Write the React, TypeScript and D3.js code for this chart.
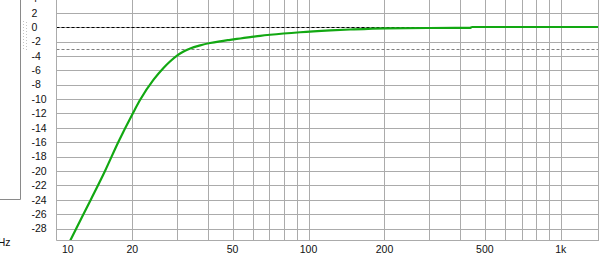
import React from "react";
import * as d3 from "d3";

// ---- data ----
const freqs = [11.2, 12, 13.7, 15.6, 17.6, 20.1, 21.5, 24.3, 26.6, 28.3, 30.1, 31.95, 33.96, 37.2, 40.7, 44.6, 48.9, 53.6, 58.7, 64.3, 70.4, 92.6, 122, 146, 202, 300, 436, 445, 800, 1420];
const gainDb = [-30.1, -28, -24, -20, -16, -12, -10.1, -7.3, -5.67, -4.74, -3.95, -3.38, -2.95, -2.52, -2.2, -1.96, -1.76, -1.57, -1.38, -1.2, -1.05, -0.7, -0.45, -0.32, -0.15, -0.11, -0.1, 0.03, 0.03, 0.03];
const yTicks = [4, 2, 0, -2, -4, -6, -8, -10, -12, -14, -16, -18, -20, -22, -24, -26, -28];
const xGrid = [10, 20, 30, 40, 50, 60, 70, 80, 90, 100, 200, 300, 400, 500, 600, 700, 800, 900, 1000];
const xLabels = [
  { f: 10, t: "10" },
  { f: 20, t: "20" },
  { f: 50, t: "50" },
  { f: 100, t: "100" },
  { f: 200, t: "200" },
  { f: 500, t: "500" },
  { f: 1000, t: "1k" },
];
const refLines = [
  { db: 0, color: "#000000" },
  { db: -3, color: "#808080" },
];

const W = 599;
const H = 279;
const plotLeft = 56.5;
const plotRight = 599;
const plotBottom = 240.5;

export default function App() {
  const x = d3.scaleLog().domain([10, 1000]).range([56.3, 560.8]);
  const y = d3.scaleLinear().domain([0, -28]).range([27.2, 228.5]);
  const pts = freqs.map((f, i) => [f, gainDb[i]] as [number, number]);
  const line = d3
    .line<[number, number]>()
    .x((d) => x(d[0]))
    .y((d) => y(d[1]))
    .curve(d3.curveMonotoneX);
  const font = "'Liberation Sans', Arial, sans-serif";
  const gridColor = "#ababab";
  const dots: number[] = d3.range(21, 49, 3);
  return (
    <svg
      width={W}
      height={H}
      style={{ position: "fixed", left: 0, top: 0, background: "#fff" }}
    >
      <rect x={0} y={0} width={W} height={H} fill="#ffffff" />
      <defs>
        <clipPath id="plotClip">
          <rect x={plotLeft} y={0} width={plotRight - plotLeft} height={plotBottom} />
        </clipPath>
      </defs>
      {/* left panel frame */}
      <line x1={20.5} x2={20.5} y1={0} y2={199.5} stroke="#8a8a8a" strokeWidth={1} />
      <line x1={0} x2={20.5} y1={199.5} y2={199.5} stroke="#8a8a8a" strokeWidth={1} />
      {dots.map((d) => (
        <g key={d}>
          <rect x={23} y={d} width={1} height={1} fill="#c4c4c4" />
          <rect x={26} y={d + 1} width={1} height={1} fill="#c4c4c4" />
        </g>
      ))}
      {/* grid */}
      <g clipPath="url(#plotClip)">
        {yTicks.map((t) => (
          <line
            key={"h" + t}
            x1={plotLeft}
            x2={plotRight}
            y1={Math.round(y(t)) + 0.5}
            y2={Math.round(y(t)) + 0.5}
            stroke={gridColor}
            strokeWidth={1}
          />
        ))}
        {xGrid.map((f) => (
          <line
            key={"v" + f}
            x1={Math.round(x(f)) + 0.5}
            x2={Math.round(x(f)) + 0.5}
            y1={0}
            y2={plotBottom}
            stroke={gridColor}
            strokeWidth={1}
          />
        ))}
        {refLines.map((r) => (
          <line
            key={"r" + r.db}
            x1={plotLeft}
            x2={plotRight}
            y1={Math.round(y(r.db)) + 0.5}
            y2={Math.round(y(r.db)) + 0.5}
            stroke={r.color}
            strokeWidth={1}
            strokeDasharray="3,2"
          />
        ))}
        <path d={line(pts) || ""} fill="none" stroke="#12a812" strokeWidth={2.2} />
      </g>
      {/* axes frame */}
      <line x1={plotLeft} x2={plotLeft} y1={0} y2={plotBottom} stroke={gridColor} strokeWidth={1} />
      <line x1={plotLeft} x2={plotRight} y1={plotBottom} y2={plotBottom} stroke={gridColor} strokeWidth={1} />
      <line x1={598.5} x2={598.5} y1={0} y2={plotBottom} stroke={gridColor} strokeWidth={1} />
      {/* y labels */}
      {yTicks.map((t) => (
        <text
          key={"yl" + t}
          x={31.5}
          y={y(t)}
          dy="0.36em"
          fontFamily={font}
          fontSize={10.5}
          fill="#111"
        >
          {t}
        </text>
      ))}
      {/* x labels */}
      {xLabels.map((l, i) => (
        <text
          key={"xl" + l.t}
          x={i === 0 ? 62 : x(l.f)}
          y={253}
          textAnchor={i === 0 ? "start" : "middle"}
          fontFamily={font}
          fontSize={10.5}
          fill="#111"
        >
          {l.t}
        </text>
      ))}
      <text x={10.5} y={245.5} textAnchor="end" fontFamily={font} fontSize={10.5} fill="#111">
        Hz
      </text>
    </svg>
  );
}
